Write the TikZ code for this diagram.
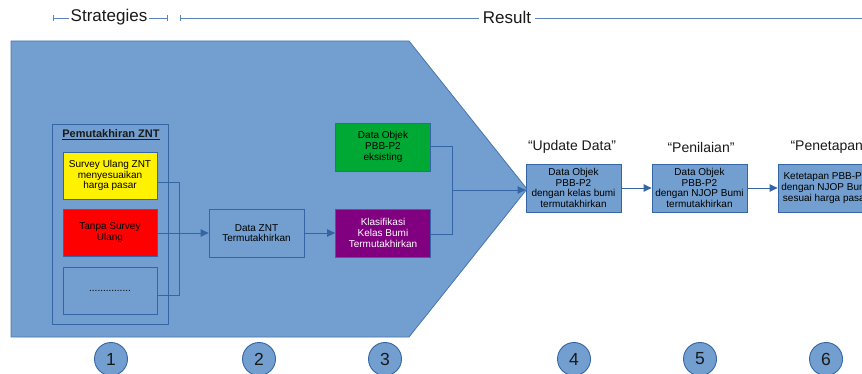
\documentclass[tikz,border=0pt]{standalone}
\usepackage{fontspec}
\setmainfont{Liberation Sans}
\usetikzlibrary{arrows.meta}
\definecolor{bfill}{HTML}{729FCF}
\definecolor{bline}{HTML}{3465A4}
\definecolor{lgreen}{HTML}{00A933}
\definecolor{lpurple}{HTML}{800080}
\tikzset{
  box/.style={draw=bline, line width=0.8pt, fill=bfill, minimum width=95pt, minimum height=48pt, inner sep=0pt, align=center, font=\fontsize{10}{10.7}\selectfont, text=black},
  conn/.style={draw=bline, line width=0.9pt},
  arr/.style={conn, -{Triangle[length=8pt,width=7.5pt]}},
  num/.style={circle, draw=bline, line width=0.9pt, fill=bfill, minimum size=33pt, inner sep=0pt, font=\fontsize{17.5}{17.5}\selectfont, text=black!90},
  head/.style={font=\fontsize{17}{17}\selectfont, text=black!90, fill=white, inner sep=2pt},
  phase/.style={font=\fontsize{14}{14}\selectfont, text=black!90},
  dim/.style={draw=bline!80, line width=0.7pt, {Bar[width=6pt]}-{Bar[width=6pt]}}
}
\begin{document}
\begin{tikzpicture}[x=1pt,y=-1pt]
\useasboundingbox (0,0) rectangle (862,374);
\clip (0,0) rectangle (862,374);
% dimension lines
\coordinate (s1) at (53,18);
\coordinate (s2) at (168,18);
\coordinate (r1) at (180,18);
\coordinate (r2) at (900,18);
\draw[dim] (s1) -- (s2);
\draw[dim] (r1) -- (r2);
\node[head] (strat) at (109,17) {Strategies};
\node[head, inner sep=4pt] (res) at (507,17) {Result};
% big pentagon
\draw[fill=bfill, draw=bline!90, line width=0.8pt] (11,41) -- (409,41) -- (527,189) -- (409,337) -- (11,337) -- cycle;
% Pemutakhiran ZNT group
\draw[draw=bline, line width=0.8pt] (52,124) rectangle (168,324);
\node[font=\fontsize{11}{12}\selectfont\bfseries, text=black!90] (ptitle) at (111,135) {\underline{Pemutakhiran ZNT}};
\node[box, fill=yellow, minimum width=94pt, minimum height=47pt] (yel) at (110,175.5) {Survey Ulang ZNT\\menyesuaikan\\harga pasar};
\node[box, fill=red, minimum width=94pt, minimum height=47pt] (redb) at (110,232.5) {Tanpa Survey\\Ulang};
\node[box, minimum width=94pt, minimum height=47pt] (dots) at (110,290.5) {...............};
\node[box] (znt) at (256.5,233) {Data ZNT\\Termutakhirkan};
\node[box, fill=lpurple, text=white] (kls) at (383,233) {Klasifikasi\\Kelas Bumi\\Termutakhirkan};
\node[box, fill=lgreen] (grn) at (383,147) {Data Objek\\PBB-P2\\eksisting};
\node[box] (b4) at (573.5,188) {Data Objek\\PBB-P2\\dengan kelas bumi\\termutakhirkan};
\node[box] (b5) at (699.5,188) {Data Objek\\PBB-P2\\dengan NJOP Bumi\\termutakhirkan};
\node[box] (b6) at (825.5,188) {Ketetapan PBB-P2\\dengan NJOP Bumi\\sesuai harga pasar};
% phase labels
\node[phase] (p4) at (572,147) {“Update Data”};
\node[phase] (p5) at (701,147) {“Penilaian”};
\node[phase, anchor=west] (p6) at (787,147) {“Penetapan”};
% connectors
\coordinate (j1) at (179,182);
\coordinate (j2) at (179,295);
\draw[conn] (yel.east |- j1) -- (j1) -- (j2) -- (dots.east |- j2);
\draw[arr] (redb.east |- znt.west) -- (znt.west);
\draw[arr] (znt.east) -- (kls.west);
\coordinate (k1) at (452,146);
\coordinate (k2) at (452,234);
\coordinate (k3) at (452,190);
\draw[conn] (grn.east |- k1) -- (k1) -- (k2) -- (kls.east |- k2);
\draw[arr] (k3) -- (b4.west |- k3);
\draw[arr] (b4.east) -- (b5.west);
\draw[arr] (b5.east) -- (b6.west);
% numbers
\node[num] (n1) at (111,359) {1};
\node[num] (n2) at (259,359) {2};
\node[num] (n3) at (385,359) {3};
\node[num] (n4) at (574,359) {4};
\node[num] (n5) at (700,359) {5};
\node[num] (n6) at (826,359) {6};
\end{tikzpicture}
\end{document}
